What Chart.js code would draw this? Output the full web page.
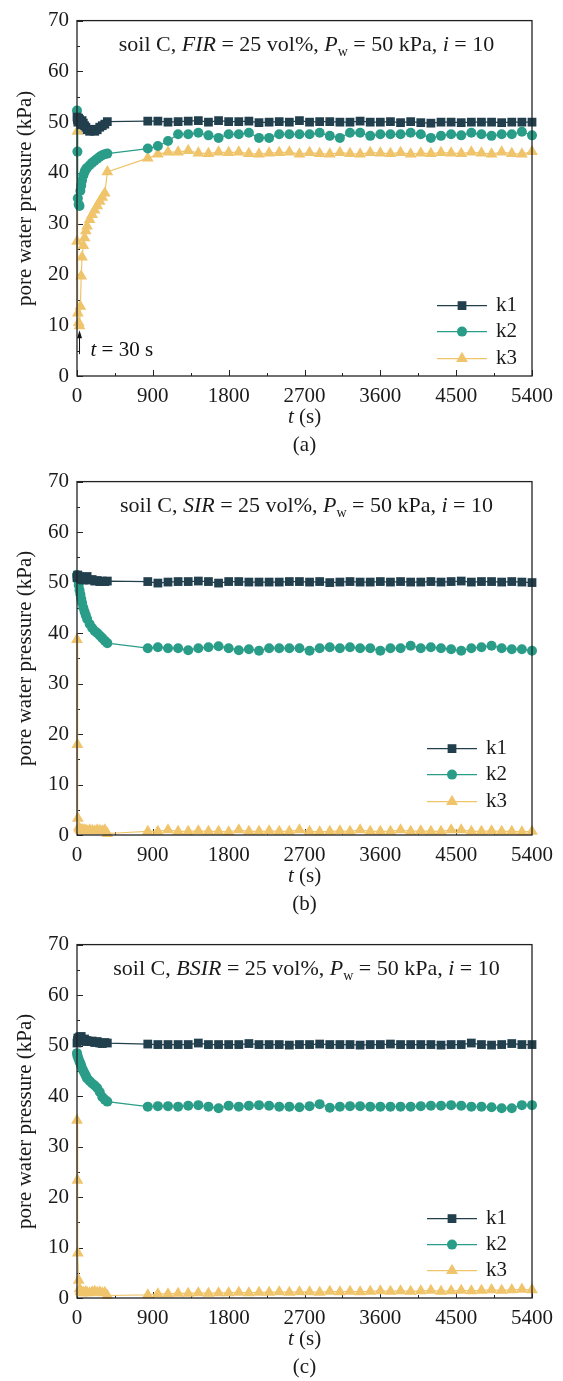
<!DOCTYPE html>
<html>
<head>
<meta charset="utf-8">
<script src="https://cdn.jsdelivr.net/npm/chart.js@4.4.1/dist/chart.umd.min.js"></script>
<style>
body { margin:0; background:#fff; width:563px; height:1381px; overflow:hidden; position:relative; }
canvas { position:absolute; left:0; }
</style>
</head>
<body>
<canvas id="chartA" width="563" height="463" style="top:0px"></canvas>
<canvas id="chartB" width="563" height="463" style="top:461px"></canvas>
<canvas id="chartC" width="563" height="463" style="top:924px"></canvas>
<script>
// time of each reading (s)
var times = [0, 5, 10, 20, 30, 40, 50, 60, 75, 90, 105, 120, 150, 180, 210, 240, 270, 300, 330, 360,
  840, 960, 1080, 1200, 1320, 1440, 1560, 1680, 1800, 1920, 2040, 2160, 2280, 2400, 2520, 2640, 2760, 2880, 3000, 3120,
  3240, 3360, 3480, 3600, 3720, 3840, 3960, 4080, 4200, 4320, 4440, 4560, 4680, 4800, 4920, 5040, 5160, 5280, 5400];

var xTicks = [0, 900, 1800, 2700, 3600, 4500, 5400];
var yTicks = [0, 10, 20, 30, 40, 50, 60, 70];

var seriesNames = ['k1', 'k2', 'k3'];
var seriesColors = ['#223f4d', '#2a9d89', '#efc46b'];
var seriesMarkers = ['rect', 'circle', 'triangle'];
var markerSizes = [6.2, 5, 6.8];

// (a) FIR
var firK1 = [51.0, 50.5, 50.0, 50.8, 50.5, 50.0, 49.5, 50.3, 49.8, 49.3, 49.0, 48.5, 48.2, 48.6, 48.2, 48.5, 49.0, 49.3, 49.6, 50.1,
  50.2, 50.2, 50.0, 50.1, 50.2, 50.3, 50.0, 50.3, 50.1, 50.1, 50.2, 49.9, 50.0, 50.1, 50.0, 50.3, 50.0, 50.1, 50.1, 50.0,
  50.0, 50.2, 50.0, 50.0, 50.1, 49.9, 50.1, 49.9, 49.8, 50.0, 50.0, 49.9, 50.0, 50.0, 50.0, 49.9, 50.0, 50.0, 50.0];
var firK2 = [52.3, 44.2, 35.0, 33.8, 33.5, 36.5, 37.5, 38.5, 39.5, 40.2, 40.7, 41.0, 41.5, 42.0, 42.4, 42.8, 43.2, 43.5, 43.7, 43.8,
  44.8, 45.3, 46.3, 47.6, 47.6, 47.9, 47.4, 46.9, 47.6, 47.6, 47.9, 46.9, 46.9, 47.6, 47.6, 47.6, 47.6, 47.9, 47.3, 46.9,
  47.9, 47.9, 47.3, 47.6, 47.6, 47.6, 47.9, 47.6, 46.9, 47.3, 47.6, 47.4, 47.9, 47.6, 47.3, 47.6, 47.6, 48.1, 47.4];
var firK3 = [26.5, 48.2, 12.4, 10.5, 9.9, 13.7, 19.7, 23.4, 25.7, 27.2, 28.6, 29.5, 30.8, 31.8, 32.7, 33.5, 34.4, 35.2, 36.0, 40.2,
  42.9, 43.7, 44.1, 44.1, 44.4, 43.9, 43.8, 44.1, 44.0, 44.1, 43.8, 43.7, 43.9, 44.0, 44.1, 43.7, 44.0, 43.8, 43.7, 44.0,
  43.8, 43.7, 44.0, 43.9, 43.8, 44.0, 43.7, 43.9, 43.8, 44.0, 43.9, 43.8, 44.1, 43.9, 43.7, 44.1, 43.8, 43.7, 44.2];

// (b) SIR
var sirK1 = [51.0, 51.3, 51.5, 51.0, 51.2, 50.8, 51.0, 50.6, 50.5, 51.0, 50.8, 51.2, 50.5, 50.6, 50.3, 50.4, 50.2, 50.3, 50.2, 50.3,
  50.2, 49.9, 50.1, 50.2, 50.2, 50.3, 50.2, 49.9, 50.2, 50.2, 50.1, 50.1, 50.1, 50.1, 50.2, 50.2, 50.1, 50.2, 50.0, 50.1,
  50.2, 50.1, 50.1, 50.2, 50.1, 50.2, 50.1, 50.1, 50.2, 50.1, 50.2, 50.3, 50.1, 50.2, 50.2, 50.1, 50.2, 50.1, 50.0];
var sirK2 = [51.5, 51.0, 50.5, 49.5, 48.5, 47.7, 46.8, 46.0, 45.0, 44.2, 43.5, 42.8, 41.8, 41.0, 40.4, 40.0, 39.5, 39.0, 38.5, 38.0,
  37.0, 37.2, 37.0, 37.0, 36.6, 37.0, 37.2, 37.4, 37.0, 36.6, 36.8, 36.5, 37.0, 37.0, 37.0, 37.0, 36.5, 37.0, 37.2, 37.0,
  37.2, 37.0, 37.0, 36.5, 37.0, 37.0, 37.5, 37.0, 37.2, 37.0, 36.8, 36.5, 37.0, 37.2, 37.5, 37.0, 36.8, 36.8, 36.5];
var sirK3 = [38.7, 17.9, 3.3, 1.5, 1.2, 1.0, 0.9, 1.1, 0.8, 1.0, 0.9, 0.8, 1.0, 0.9, 0.8, 1.0, 0.9, 0.8, 1.0, 0.3,
  0.7, 0.7, 1.0, 0.7, 0.7, 0.8, 0.7, 0.7, 0.6, 1.0, 0.7, 0.7, 0.8, 0.7, 0.7, 1.0, 0.7, 0.6, 0.7, 0.8,
  0.7, 1.0, 0.7, 0.7, 0.7, 1.0, 0.7, 0.8, 0.7, 0.7, 1.0, 1.0, 0.7, 0.7, 0.8, 0.7, 0.7, 0.6, 0.7];

// (c) BSIR
var bsirK1 = [50.5, 51.0, 51.5, 51.2, 51.7, 51.5, 51.8, 51.2, 51.0, 51.3, 50.8, 51.0, 50.8, 50.9, 50.6, 50.8, 50.5, 50.4, 50.6, 50.5,
  50.3, 50.2, 50.2, 50.2, 50.2, 50.5, 50.2, 50.2, 50.2, 50.2, 50.4, 50.2, 50.2, 50.2, 50.1, 50.2, 50.2, 50.3, 50.2, 50.2,
  50.2, 50.1, 50.2, 50.2, 50.3, 50.2, 50.2, 50.2, 50.2, 50.1, 50.2, 50.2, 50.5, 50.2, 50.1, 50.2, 50.4, 50.2, 50.2];
var bsirK2 = [48.5, 48.0, 47.8, 47.3, 46.8, 46.5, 46.0, 45.5, 45.0, 44.5, 44.0, 43.5, 43.0, 42.5, 42.1, 41.6, 40.8, 39.8, 39.3, 38.9,
  37.9, 38.0, 38.0, 37.9, 38.1, 38.2, 37.9, 37.6, 38.1, 37.9, 38.1, 38.2, 38.1, 37.9, 37.9, 37.8, 38.0, 38.4, 37.7, 37.9,
  38.0, 38.0, 37.9, 37.9, 37.9, 37.9, 37.9, 38.0, 38.1, 38.1, 38.2, 38.1, 37.9, 37.9, 37.8, 37.6, 37.6, 38.2, 38.2];
var bsirK3 = [35.2, 23.3, 8.9, 3.5, 1.8, 1.3, 1.2, 1.0, 1.1, 1.0, 1.2, 1.1, 1.0, 1.2, 1.3, 1.1, 1.2, 1.0, 1.1, 0.5,
  0.6, 0.8, 0.8, 0.9, 0.9, 1.0, 0.9, 1.0, 1.0, 1.1, 1.0, 1.1, 1.1, 1.2, 1.1, 1.2, 1.2, 1.1, 1.3, 1.2,
  1.3, 1.2, 1.3, 1.4, 1.3, 1.4, 1.3, 1.4, 1.5, 1.3, 1.4, 1.5, 1.4, 1.5, 1.6, 1.5, 1.6, 1.7, 1.6];

var SERIF = "'Liberation Serif', 'Times New Roman', serif";

function drawMarker(ctx, style, x, y, r) {
  ctx.beginPath();
  if (style === 'rect') {
    var s = r * Math.SQRT1_2;
    ctx.rect(x - s, y - s, 2 * s, 2 * s);
  } else if (style === 'triangle') {
    ctx.moveTo(x, y - r);
    ctx.lineTo(x + r * 0.866, y + r * 0.5);
    ctx.lineTo(x - r * 0.866, y + r * 0.5);
    ctx.closePath();
  } else {
    ctx.arc(x, y, r, 0, Math.PI * 2);
  }
  ctx.fill();
}

// draws text pieces (normal / italic / subscript) one after another
function drawPieces(ctx, pieces, x, y, size, align) {
  function fontOf(p) {
    var sz = p.sub ? Math.round(size * 0.65) : size;
    return (p.it ? 'italic ' : '') + sz + 'px ' + SERIF;
  }
  var total = 0;
  pieces.forEach(function(p) { ctx.font = fontOf(p); total += ctx.measureText(p.t).width; });
  var cx = align === 'center' ? x - total / 2 : x;
  ctx.textBaseline = 'middle';
  ctx.textAlign = 'left';
  pieces.forEach(function(p) {
    ctx.font = fontOf(p);
    ctx.fillText(p.t, cx, p.sub ? y + size * 0.3 : y);
    cx += ctx.measureText(p.t).width;
  });
}

var framePlugin = {
  id: 'frame',
  beforeDatasetsDraw: function(chart) {
    var ctx = chart.ctx, a = chart.chartArea, xs = chart.scales.x, ys = chart.scales.y;
    ctx.save();
    ctx.strokeStyle = '#222';
    ctx.lineWidth = 1;
    ctx.beginPath();
    xTicks.forEach(function(v, i) {
      var px = Math.round(xs.getPixelForValue(v)) + 0.5;
      ctx.moveTo(px, a.bottom); ctx.lineTo(px, a.bottom - 6);
      if (i < xTicks.length - 1) {
        var m = Math.round(xs.getPixelForValue((v + xTicks[i + 1]) / 2)) + 0.5;
        ctx.moveTo(m, a.bottom); ctx.lineTo(m, a.bottom - 3);
      }
    });
    yTicks.forEach(function(v, i) {
      var py = Math.round(ys.getPixelForValue(v)) + 0.5;
      ctx.moveTo(a.left, py); ctx.lineTo(a.left + 6, py);
      if (i < yTicks.length - 1) {
        var m = Math.round(ys.getPixelForValue((v + yTicks[i + 1]) / 2)) + 0.5;
        ctx.moveTo(a.left, m); ctx.lineTo(a.left + 3, m);
      }
    });
    ctx.stroke();
    ctx.restore();
  },
  afterDraw: function(chart, args, opts) {
    var ctx = chart.ctx, a = chart.chartArea, xs = chart.scales.x, ys = chart.scales.y;
    ctx.save();
    ctx.strokeStyle = '#222';
    ctx.lineWidth = 1.3;
    ctx.strokeRect(a.left, a.top, a.right - a.left, a.bottom - a.top);

    ctx.fillStyle = '#1a1a1a';
    // title inside the plot
    drawPieces(ctx, opts.title, (a.left + a.right) / 2 + 2, a.top + 25, 22, 'center');

    // axis titles and caption
    drawPieces(ctx, [{ t: 't', it: true }, { t: ' (s)' }], (a.left + a.right) / 2, a.bottom + 41, 21, 'center');
    drawPieces(ctx, [{ t: opts.caption }], (a.left + a.right) / 2, a.bottom + 69, 21, 'center');
    ctx.save();
    ctx.translate(25, (a.top + a.bottom) / 2);
    ctx.rotate(-Math.PI / 2);
    drawPieces(ctx, [{ t: 'pore water pressure (kPa)' }], 0, 0, 21, 'center');
    ctx.restore();

    // legend
    chart.data.datasets.forEach(function(ds, i) {
      var y = a.top + opts.legendY[i];
      ctx.strokeStyle = ds.borderColor;
      ctx.lineWidth = 1.3;
      ctx.beginPath();
      ctx.moveTo(opts.legendX, y); ctx.lineTo(opts.legendX + 50, y);
      ctx.stroke();
      ctx.fillStyle = ds.pointBackgroundColor;
      drawMarker(ctx, ds.pointStyle, opts.legendX + 25, y, ds.pointRadius);
      ctx.fillStyle = '#1a1a1a';
      drawPieces(ctx, [{ t: ds.label }], opts.legendX + 59, y, 21, 'left');
    });

    // arrow note
    if (opts.note) {
      var n = opts.note;
      var ax = xs.getPixelForValue(n.t);
      var y0 = ys.getPixelForValue(n.from), y1 = ys.getPixelForValue(n.to);
      ctx.strokeStyle = '#111';
      ctx.fillStyle = '#111';
      ctx.lineWidth = 1;
      ctx.beginPath();
      ctx.moveTo(ax, y0); ctx.lineTo(ax, y1 + 6);
      ctx.stroke();
      ctx.beginPath();
      ctx.moveTo(ax, y1); ctx.lineTo(ax - 2.5, y1 + 8); ctx.lineTo(ax + 2.5, y1 + 8); ctx.closePath();
      ctx.fill();
      drawPieces(ctx, [{ t: 't', it: true }, { t: ' = 30 s' }], xs.getPixelForValue(n.textT), ys.getPixelForValue(n.textV), 21, 'left');
    }
    ctx.restore();
  }
};

function makeChart(id, k1, k2, k3, opts) {
  var values = [k1, k2, k3];
  var datasets = values.map(function(vals, i) {
    return {
      label: seriesNames[i],
      data: times.map(function(t, j) { return { x: t, y: vals[j] }; }),
      borderColor: seriesColors[i],
      backgroundColor: seriesColors[i],
      pointBackgroundColor: seriesColors[i],
      pointBorderWidth: 0,
      pointStyle: seriesMarkers[i],
      pointRadius: markerSizes[i],
      borderWidth: 1.2,
      tension: 0,
      clip: false
    };
  });
  return new Chart(document.getElementById(id), {
    type: 'line',
    data: { datasets: datasets },
    options: {
      responsive: false,
      animation: false,
      devicePixelRatio: 1,
      layout: { padding: { top: 14, right: 31, left: 0, bottom: 0 } },
      plugins: {
        legend: { display: false },
        tooltip: { enabled: false },
        frame: opts
      },
      scales: {
        x: {
          type: 'linear', min: 0, max: 5400,
          afterBuildTicks: function(s) { s.ticks = xTicks.map(function(v) { return { value: v }; }); },
          afterFit: function(s) { s.height = opts.xHeight; },
          grid: { display: false, drawTicks: false },
          border: { display: false },
          ticks: { padding: 8, color: '#1a1a1a', maxRotation: 0, font: { family: SERIF, size: 21 },
            callback: function(v) { return String(v); } }
        },
        y: {
          min: 0, max: 70,
          afterBuildTicks: function(s) { s.ticks = yTicks.map(function(v) { return { value: v }; }); },
          afterFit: function(s) { s.width = 77; },
          grid: { display: false, drawTicks: false },
          border: { display: false },
          ticks: { padding: 8, color: '#1a1a1a', font: { family: SERIF, size: 21 },
            callback: function(v) { return String(v); } }
        }
      }
    },
    plugins: [framePlugin]
  });
}

makeChart('chartA', firK1, firK2, firK3, {
  title: [{ t: 'soil C, ' }, { t: 'FIR', it: true }, { t: ' = 25 vol%, ' }, { t: 'P', it: true }, { t: 'w', sub: true },
    { t: ' = 50 kPa, ' }, { t: 'i', it: true }, { t: ' = 10' }],
  caption: '(a)', xHeight: 87, legendX: 437, legendY: [285, 311, 338],
  note: { t: 30, from: 4.3, to: 9.0, textT: 160, textV: 5.0 }
});
makeChart('chartB', sirK1, sirK2, sirK3, {
  title: [{ t: 'soil C, ' }, { t: 'SIR', it: true }, { t: ' = 25 vol%, ' }, { t: 'P', it: true }, { t: 'w', sub: true },
    { t: ' = 50 kPa, ' }, { t: 'i', it: true }, { t: ' = 10' }],
  caption: '(b)', xHeight: 89, legendX: 427, legendY: [267, 293, 320]
});
makeChart('chartC', bsirK1, bsirK2, bsirK3, {
  title: [{ t: 'soil C, ' }, { t: 'BSIR', it: true }, { t: ' = 25 vol%, ' }, { t: 'P', it: true }, { t: 'w', sub: true },
    { t: ' = 50 kPa, ' }, { t: 'i', it: true }, { t: ' = 10' }],
  caption: '(c)', xHeight: 89, legendX: 427, legendY: [274, 300, 326]
});
</script>
</body>
</html>
